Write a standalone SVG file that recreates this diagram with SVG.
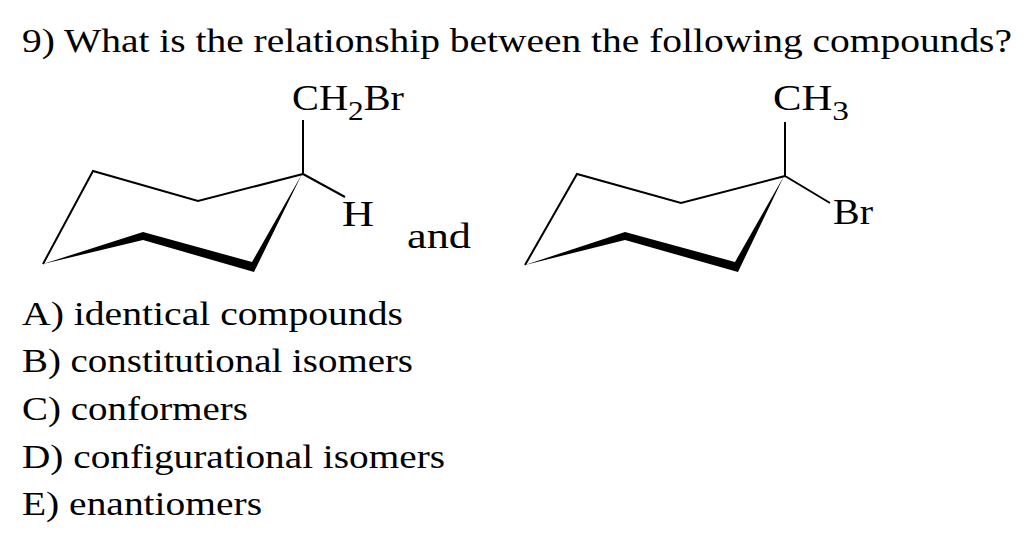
<svg xmlns="http://www.w3.org/2000/svg" width="1024" height="546" viewBox="0 0 1024 546">
<style>
.q{font-family:"Liberation Serif",serif;font-size:33px;fill:#000}
.c{font-family:"Liberation Serif",serif;font-size:36px;fill:#000}
.s{font-family:"Liberation Serif",serif;font-size:28px;fill:#000}
.b{fill:none;stroke:#000;stroke-width:2}
</style>
<rect width="1024" height="546" fill="#fff"/>
<text class="q" x="22" y="52" textLength="990" lengthAdjust="spacingAndGlyphs">9) What is the relationship between the following compounds?</text>
<g id="mol1">
<path class="b" d="M43,264 L93,171 L198,201 L303,174 M303,174 V120 M303,174 L345,197"/>
<polygon points="43,264 143,232 252,262 302,174 254,272 143,240"/>
<text class="c" x="292" y="110" textLength="112" lengthAdjust="spacingAndGlyphs">CH<tspan class="s" dy="10">2</tspan><tspan dy="-10">Br</tspan></text>
<text class="c" x="342" y="226" textLength="32" lengthAdjust="spacingAndGlyphs">H</text>
</g>
<text id="and" class="c" x="407" y="248" textLength="64" lengthAdjust="spacingAndGlyphs">and</text>
<g id="mol2">
<path class="b" d="M525,265 L577,174 L681,203 L785,176 M785,176 V122 M785,176 L830,203"/>
<polygon points="525,265 625,232 735,262 784,176 738,272 625,240"/>
<text class="c" x="773" y="110" textLength="76" lengthAdjust="spacingAndGlyphs">CH<tspan class="s" dy="10">3</tspan></text>
<text class="c" x="833" y="224" textLength="40" lengthAdjust="spacingAndGlyphs">Br</text>
</g>
<text class="q" x="22" y="325" textLength="381" lengthAdjust="spacingAndGlyphs">A) identical compounds</text>
<text class="q" x="22" y="372" textLength="391" lengthAdjust="spacingAndGlyphs">B) constitutional isomers</text>
<text class="q" x="22" y="420" textLength="226" lengthAdjust="spacingAndGlyphs">C) conformers</text>
<text class="q" x="22" y="468" textLength="423" lengthAdjust="spacingAndGlyphs">D) configurational isomers</text>
<text class="q" x="22" y="515" textLength="240" lengthAdjust="spacingAndGlyphs">E) enantiomers</text>
</svg>
